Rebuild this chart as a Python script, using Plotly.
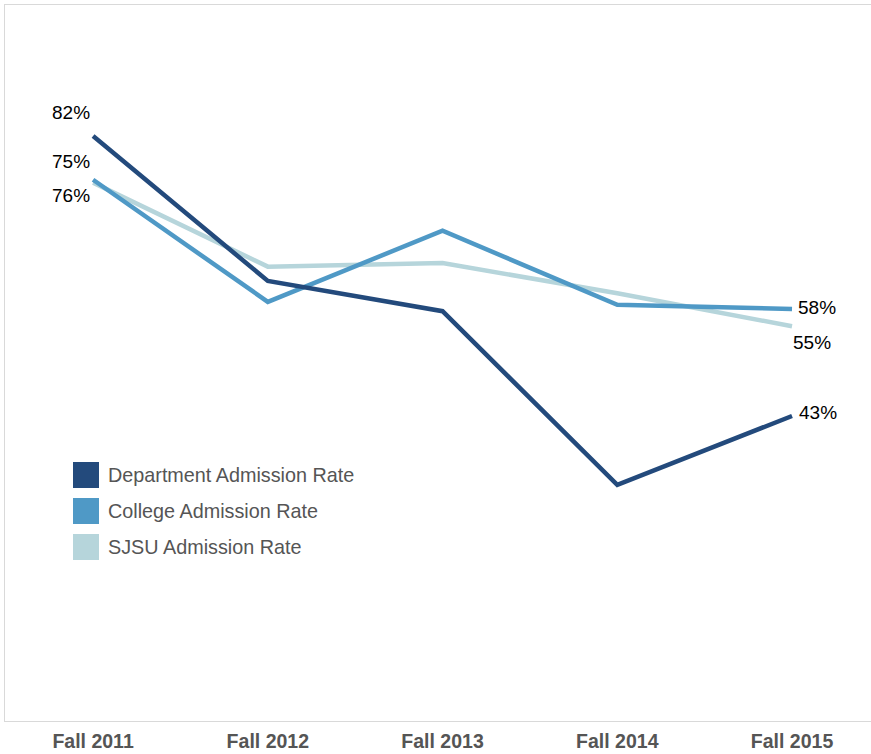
import plotly.graph_objects as go

terms = ["Fall 2011", "Fall 2012", "Fall 2013", "Fall 2014", "Fall 2015"]
dept_rate = [82.0, 61.8, 57.6, 33.4, 43.0]
college_rate = [75.9, 58.9, 68.8, 58.5, 57.9]
sjsu_rate = [75.5, 63.8, 64.3, 60.1, 55.5]

series_names = ["Department Admission Rate", "College Admission Rate", "SJSU Admission Rate"]
series_values = [dept_rate, college_rate, sjsu_rate]
series_colors = ["#234a7c", "#4f99c6", "#b6d5db"]

start_labels = ["82%", "75%", "76%"]
end_labels = ["43%", "58%", "55%"]

FONT = "Arial, 'Liberation Sans', sans-serif"

fig = go.Figure()
for i in [2, 1, 0]:
    fig.add_trace(go.Scatter(
        x=terms, y=series_values[i], mode="lines", name=series_names[i],
        line=dict(color=series_colors[i], width=4.5), showlegend=False,
        hoverinfo="skip"))

annotations = []
start_shift = [23, 18, -13]
end_shift = [(5, 3), (4, 2), (-1, -16)]
for i in range(3):
    annotations.append(dict(
        x=terms[0], y=series_values[i][0], xref="x", yref="y",
        text=start_labels[i], showarrow=False, xanchor="right", yanchor="middle",
        xshift=-1, yshift=start_shift[i], font=dict(size=19, color="#000", family=FONT)))
    annotations.append(dict(
        x=terms[-1], y=series_values[i][-1], xref="x", yref="y",
        text=end_labels[i], showarrow=False, xanchor="left", yanchor="middle",
        xshift=end_shift[i][0], yshift=end_shift[i][1], font=dict(size=19, color="#000", family=FONT)))

shapes = []
W, H = 871, 754
l, r, t, b = 5, 0, 5, 33
pw, ph = W - l - r, H - t - b
def px(xp):
    return (xp - l) / pw
def py(yp):
    return 1 - (yp - t) / ph
for k in range(3):
    yc = 475 + 36 * k
    shapes.append(dict(type="rect", xref="paper", yref="paper",
                       x0=px(73), x1=px(99), y0=py(yc + 13), y1=py(yc - 13),
                       fillcolor=series_colors[k], line=dict(width=0)))
    annotations.append(dict(x=px(106), y=py(yc), xref="paper", yref="paper",
                            text=series_names[k], showarrow=False, xanchor="left",
                            yanchor="middle", font=dict(size=19.8, color="#555555", family=FONT)))

fig.update_layout(
    width=W, height=H,
    margin=dict(l=l, r=r, t=t, b=b),
    paper_bgcolor="white", plot_bgcolor="white",
    showlegend=False,
    shapes=shapes, annotations=annotations,
    xaxis=dict(type="category", range=[-0.504, 4.452], showgrid=False, zeroline=False,
               showline=True, mirror=True, linecolor="#d9d9d9", linewidth=1,
               ticks="outside", ticklen=3, tickcolor="rgba(0,0,0,0)",
               tickfont=dict(size=19.5, color="#555555", family=FONT, weight="bold"),
               fixedrange=True),
    yaxis=dict(range=[0.52, 100.24], showgrid=False, zeroline=False, showticklabels=False,
               showline=True, mirror=False, linecolor="#d9d9d9", linewidth=1, fixedrange=True),
    font=dict(family=FONT),
)

fig.write_html("out.html", post_script="document.body.style.margin='0';document.body.style.overflow='hidden';",
               config={"displayModeBar": False})
